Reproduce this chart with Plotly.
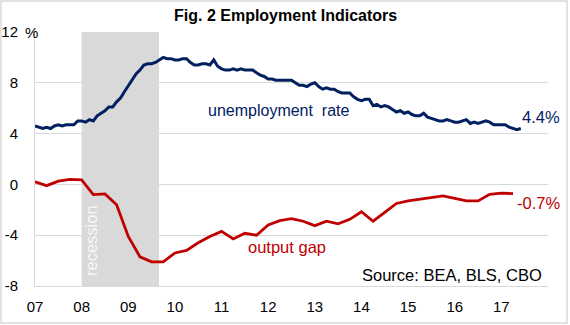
import plotly.graph_objects as go

# ---- data ----
years = list(range(2007, 2018))
year_labels = ["07", "08", "09", "10", "11", "12", "13", "14", "15", "16", "17"]

unemployment_rate = [
    4.6, 4.5, 4.4, 4.5, 4.4, 4.6, 4.7, 4.6, 4.7, 4.7, 4.7, 5.0,   # 2007
    5.0, 4.9, 5.1, 5.0, 5.4, 5.6, 5.8, 6.1, 6.1, 6.5, 6.8, 7.3,   # 2008
    7.8, 8.3, 8.7, 9.0, 9.4, 9.5, 9.5, 9.6, 9.8, 10.0, 9.9, 9.9,  # 2009
    9.8, 9.8, 9.9, 9.9, 9.6, 9.4, 9.4, 9.5, 9.5, 9.4, 9.8, 9.3,   # 2010
    9.1, 9.0, 9.0, 9.1, 9.0, 9.1, 9.0, 9.0, 9.0, 8.8, 8.6, 8.5,   # 2011
    8.3, 8.3, 8.2, 8.2, 8.2, 8.2, 8.2, 8.0, 7.8, 7.8, 7.7, 7.9,   # 2012
    8.0, 7.7, 7.5, 7.6, 7.5, 7.5, 7.3, 7.2, 7.2, 7.2, 6.9, 6.7,   # 2013
    6.6, 6.7, 6.7, 6.2, 6.3, 6.1, 6.2, 6.1, 5.9, 5.7, 5.8, 5.6,   # 2014
    5.7, 5.5, 5.4, 5.4, 5.6, 5.3, 5.2, 5.1, 5.0, 5.0, 5.1, 5.0,   # 2015
    4.9, 4.9, 5.0, 5.1, 4.8, 4.9, 4.8, 4.9, 5.0, 4.9, 4.7, 4.7,   # 2016
    4.7, 4.7, 4.5, 4.4, 4.3, 4.4,                                 # 2017
]
unemployment_dates = [2007 + i / 12 for i in range(len(unemployment_rate))]

output_gap = [
    0.2, -0.1, 0.25, 0.4,      # 2007
    0.35, -0.8, -0.75, -1.6,   # 2008
    -4.1, -5.7, -6.1, -6.1,    # 2009
    -5.4, -5.2, -4.6, -4.1,    # 2010
    -3.7, -4.3, -3.85, -4.0,   # 2011
    -3.2, -2.85, -2.7, -2.9,   # 2012
    -3.25, -2.9, -3.1, -2.75,  # 2013
    -2.15, -2.9, -2.2, -1.5,   # 2014
    -1.3, -1.17, -1.0, -0.9,   # 2015
    -1.1, -1.3, -1.3, -0.78,   # 2016
    -0.68, -0.73,              # 2017
]
output_gap_dates = [2007 + k / 4 for k in range(len(output_gap))]

recession = [2008.0, 2009.66]

y_ticks = [-8, -4, 0, 4, 8, 12]
y_tick_labels = ["-8", "-4", "0", "4", "8", "12"]

NAVY = "#002060"
RED = "#C00000"
GRID = "#D9D9D9"
FONT = "Liberation Sans, Arial, sans-serif"

# ---- layout geometry (pixels) ----
W, H = 570, 325
L, R, T, B = 35, 22, 32, 39
PW, PH = W - L - R, H - T - B


def px(x):
    return (x - L) / PW


def py(y):
    return (H - B - y) / PH


fig = go.Figure()

fig.add_trace(go.Scatter(
    x=unemployment_dates, y=unemployment_rate, mode="lines",
    line=dict(color=NAVY, width=3), hoverinfo="skip", showlegend=False))
fig.add_trace(go.Scatter(
    x=output_gap_dates, y=output_gap, mode="lines",
    line=dict(color=RED, width=2.8), hoverinfo="skip", showlegend=False))

# recession shading
fig.add_shape(type="rect", xref="x", yref="paper",
              x0=recession[0], x1=recession[1], y0=0, y1=1,
              fillcolor="#D9D9D9", line=dict(width=0), layer="between")

# outer border
fig.add_shape(type="rect", xref="paper", yref="paper",
              x0=px(1), x1=px(567), y0=py(323), y1=py(1),
              line=dict(color="#D9D9D9", width=1.5), fillcolor="rgba(0,0,0,0)")

ann = [
    dict(text="<b>Fig. 2 Employment Indicators</b>", x=px(285), y=py(16),
         font=dict(size=16, color="black")),
    dict(text="recession", x=px(91), y=py(241), textangle=-90,
         font=dict(size=16.5, color="#F8F8F8")),
    dict(text="unemployment&nbsp;&nbsp;rate", x=px(279), y=py(110),
         font=dict(size=16, color=NAVY)),
    dict(text="output gap", x=px(287), y=py(247),
         font=dict(size=16.5, color=RED)),
    dict(text="4.4%", x=px(541), y=py(117),
         font=dict(size=16.5, color=NAVY)),
    dict(text="-0.7%", x=px(538), y=py(203),
         font=dict(size=16.5, color=RED)),
    dict(text="Source: BEA, BLS, CBO", x=px(452), y=py(275),
         font=dict(size=16.5, color="black")),
    dict(text="%", x=px(31), y=py(32),
         font=dict(size=15, color="black")),
]
for a in ann:
    fig.add_annotation(xref="paper", yref="paper", showarrow=False,
                       xanchor="center", yanchor="middle", **a)

fig.update_layout(
    width=W, height=H,
    margin=dict(l=L, r=R, t=T, b=B, autoexpand=False),
    paper_bgcolor="white", plot_bgcolor="white",
    font=dict(family=FONT, size=15, color="black"),
    showlegend=False,
    xaxis=dict(range=[2007, 2018], tickvals=years, ticktext=year_labels,
               showgrid=False, zeroline=False, showline=True, automargin=False,
               linecolor=GRID, linewidth=1, ticks="", ticklabelstandoff=7,
               tickfont=dict(size=15), fixedrange=True),
    yaxis=dict(range=[-8, 12], tickvals=y_ticks, ticktext=y_tick_labels,
               showgrid=True, gridcolor=GRID, gridwidth=1, zeroline=False,
               showline=True, linecolor=GRID, linewidth=1, ticks="", automargin=False,
               ticklabelstandoff=13, tickfont=dict(size=15), fixedrange=True),
)

fig.write_html("out.html")
